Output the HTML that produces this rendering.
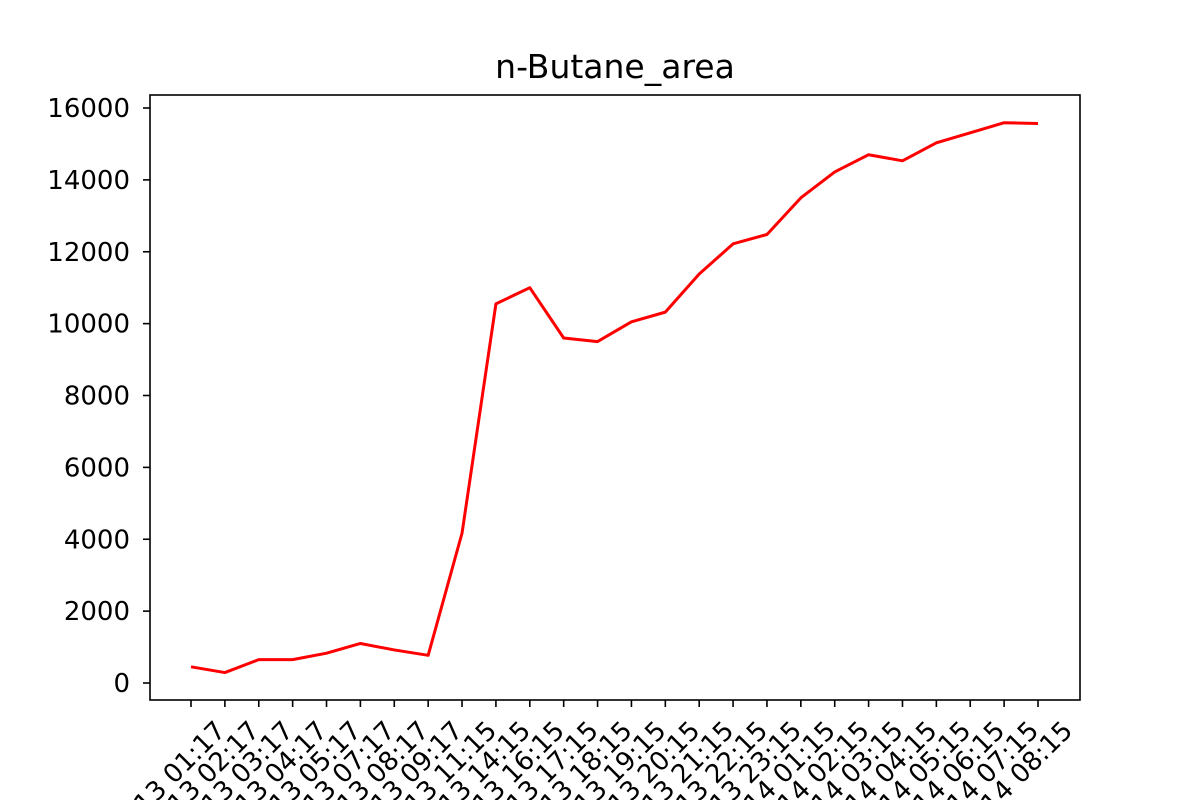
<!DOCTYPE html>
<html><head><meta charset="utf-8"><style>
body{margin:0;background:#fff;font-family:"Liberation Sans","DejaVu Sans",sans-serif;overflow:hidden}
svg text{font-family:"DejaVu Sans","Liberation Sans",sans-serif}
</style></head><body>
<svg id="chart" width="1200" height="800" xmlns="http://www.w3.org/2000/svg" style="display:block">
<rect width="1200" height="800" fill="#fff"/>
<text x="615" y="78" font-size="33" text-anchor="middle">n-Butane_area</text>
<rect x="150" y="95" width="930" height="605" fill="none" stroke="#000" stroke-width="1.6"/>
</svg>
<script>
const categories=["2023-01-13 01:17","2023-01-13 02:17","2023-01-13 03:17","2023-01-13 04:17","2023-01-13 05:17","2023-01-13 07:17","2023-01-13 08:17","2023-01-13 09:17","2023-01-13 11:15","2023-01-13 14:15","2023-01-13 16:15","2023-01-13 17:15","2023-01-13 18:15","2023-01-13 19:15","2023-01-13 20:15","2023-01-13 21:15","2023-01-13 22:15","2023-01-13 23:15","2023-01-14 01:15","2023-01-14 02:15","2023-01-14 03:15","2023-01-14 04:15","2023-01-14 05:15","2023-01-14 06:15","2023-01-14 07:15","2023-01-14 08:15"];
const values=[450,290,650,650,830,1100,920,770,4170,10550,11000,9600,9500,10050,10320,11380,12220,12480,13500,14220,14700,14530,15030,15310,15590,15570];
const yTicks=[0,2000,4000,6000,8000,10000,12000,14000,16000];
const NS="http://www.w3.org/2000/svg";
const svg=document.getElementById('chart');
const x0=191,x1=1038;
function xs(i){return x0+(x1-x0)*i/(categories.length-1);}
function ys(v){return 683-v*(575/16000);}
function mk(t,a){const e=document.createElementNS(NS,t);for(const k in a)e.setAttribute(k,a[k]);svg.appendChild(e);return e;}
yTicks.forEach(v=>{
 const y=ys(v);
 const t=mk('line',{x1:143,x2:150,y1:y,y2:y,stroke:'#000','stroke-width':1.6});
 
 
 const l=mk('text',{x:130,y:y+9,'font-size':26,'text-anchor':'end'});
 
 
 l.textContent=v;
});
categories.forEach((c,i)=>{
 const x=xs(i);
 const t=mk('line',{x1:x,x2:x,y1:700,y2:707,stroke:'#000','stroke-width':1.6});
 
 
 const ax=x+36,ay=732;
 const l=mk('text',{x:ax,y:ay,'font-size':26,'text-anchor':'end',transform:`rotate(-45 ${ax} ${ay})`});
 
 
 l.textContent=c;
});
const p=mk('polyline',{points:values.map((v,i)=>xs(i)+','+ys(v)).join(' '),fill:'none',stroke:'#ff0000','stroke-width':3,'stroke-linejoin':'round'});


</script>
</body></html>
